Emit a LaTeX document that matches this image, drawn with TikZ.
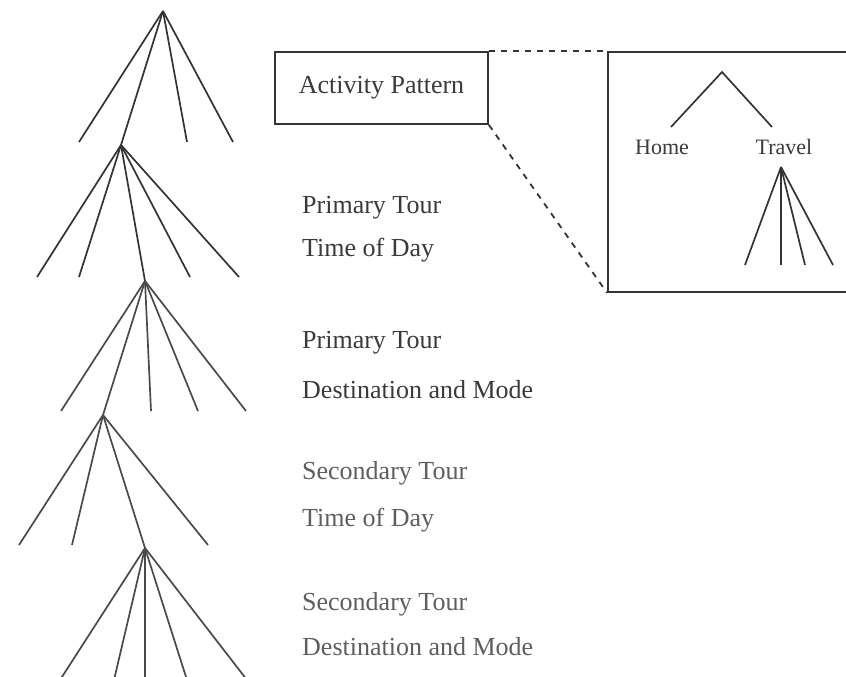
\documentclass[tikz,border=0pt]{standalone}
\usepackage{fontspec}
\setmainfont{Liberation Serif}
\definecolor{inkdark}{HTML}{333333}
\definecolor{inkmid}{HTML}{4A4A4A}
\definecolor{textone}{HTML}{3A3A3A}
\definecolor{texttwo}{HTML}{5E5E5E}
\begin{document}
\begin{tikzpicture}[x=1pt,y=-1pt,
  branch/.style={draw=inkdark,line width=1.7pt},
  branchlight/.style={draw=inkmid,line width=1.7pt},
  stagelabel/.style={anchor=west,inner sep=0pt,text=textone,font=\fontsize{26}{30}\selectfont},
  stagelabellight/.style={stagelabel,text=texttwo},
  framebox/.style={draw=inkdark,line width=1.8pt,inner sep=0pt},
  zoomline/.style={draw=inkdark,line width=1.8pt,dash pattern=on 6pt off 6pt},
  smalllabel/.style={inner sep=0pt,text=textone,font=\fontsize{22}{26}\selectfont}]
\useasboundingbox (0,0) rectangle (846,677);

% ---- main decision tree: vertices
\coordinate (r0) at (163,11);
\coordinate (r1) at (121,145);
\coordinate (r2) at (145,281);
\coordinate (r3) at (103,415);
\coordinate (r4) at (145,548);
% leaves
\coordinate (a1) at (79,142);  \coordinate (a2) at (187,142); \coordinate (a3) at (233,142);
\coordinate (b1) at (37,277);  \coordinate (b2) at (79,277);  \coordinate (b3) at (190,277); \coordinate (b4) at (239,277);
\coordinate (c1) at (61,411);  \coordinate (c2) at (151,411); \coordinate (c3) at (198,411); \coordinate (c4) at (246,411);
\coordinate (d1) at (19,545);  \coordinate (d2) at (72,545);  \coordinate (d3) at (208,545);
\coordinate (e1) at (60,680);  \coordinate (e2) at (114,680); \coordinate (e3) at (145,680); \coordinate (e4) at (187,680); \coordinate (e5) at (247,680);

\foreach \l in {a1,a2,a3} \draw[branch] (r0) -- (\l);
\draw[branch] (r0) -- (r1);
\foreach \l in {b1,b2,b3,b4} \draw[branch] (r1) -- (\l);
\draw[branch] (r1) -- (r2);
\foreach \l in {c1,c2,c3,c4} \draw[branchlight] (r2) -- (\l);
\draw[branchlight] (r2) -- (r3);
\foreach \l in {d1,d2,d3} \draw[branchlight] (r3) -- (\l);
\draw[branchlight] (r3) -- (r4);
\foreach \l in {e1,e2,e3,e4,e5} \draw[branchlight] (r4) -- (\l);

% ---- stage labels
\node[framebox,minimum width=213pt,minimum height=72pt,text=textone,font=\fontsize{26}{30}\selectfont] (act) at (381.5,88) {Activity Pattern};
\node[stagelabel] (pt1) at (302,208) {Primary Tour};
\node[stagelabel] (pt2) at (302,250) {Time of Day};
\node[stagelabel] (pd1) at (302,343) {Primary Tour};
\node[stagelabel] (pd2) at (302,390) {Destination and Mode};
\node[stagelabellight] (st1) at (302,473) {Secondary Tour};
\node[stagelabellight] (st2) at (302,520) {Time of Day};
\node[stagelabellight] (sd1) at (302,604) {Secondary Tour};
\node[stagelabellight] (sd2) at (302,647) {Destination and Mode};

% ---- enlarged view of the activity pattern choice
\node[framebox,minimum width=252pt,minimum height=240pt] (zoom) at (734,172) {};
\draw[zoomline] (act.north east) -- (zoom.north west);
\draw[zoomline] (act.south east) -- (zoom.south west);

\coordinate (ap) at (722,72);
\coordinate (hl) at (671,127);
\coordinate (tl) at (772,127);
\draw[branch] (hl) -- (ap) -- (tl);
\node[smalllabel] (home) at (662,147) {Home};
\node[smalllabel] (travel) at (784,147) {Travel};
\coordinate (tv) at (781,167);
\coordinate (t1) at (745,265); \coordinate (t2) at (781,265);
\coordinate (t3) at (805,265); \coordinate (t4) at (833,265);
\foreach \l in {t1,t2,t3,t4} \draw[branch] (tv) -- (\l);
\end{tikzpicture}
\end{document}
